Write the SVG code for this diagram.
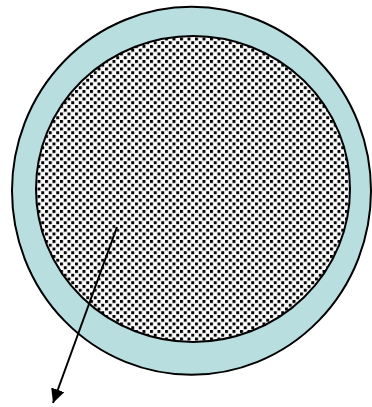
<svg xmlns="http://www.w3.org/2000/svg" width="372" height="407" viewBox="0 0 372 407">
<style>
.ring{fill:#B8DEE0;stroke:#000;stroke-width:2}
.core{fill:url(#dots);stroke:#000;stroke-width:2}
.conn{fill:none;stroke:#000;stroke-width:2}
</style>
<defs>
<pattern id="dots" patternUnits="userSpaceOnUse" width="7.5" height="7.5">
<rect width="7.5" height="7.5" fill="#fff"/>
<rect x="0" y="0" width="3" height="3" fill="#000"/>
<rect x="3.75" y="3.75" width="3" height="3" fill="#000"/>
</pattern>
<marker id="arrow" markerUnits="userSpaceOnUse" markerWidth="16" markerHeight="14" refX="14" refY="7" orient="auto">
<path d="M0,0 L14,7 L0,14 Z" fill="#000"/>
</marker>
</defs>
<g id="outer"><ellipse class="ring" cx="191.5" cy="190.8" rx="179.5" ry="184"/></g>
<g id="inner"><ellipse class="core" cx="193" cy="189" rx="157" ry="153"/></g>
<g id="connectors"><line class="conn" x1="117" y1="227" x2="53" y2="403" marker-end="url(#arrow)"/></g>
</svg>
